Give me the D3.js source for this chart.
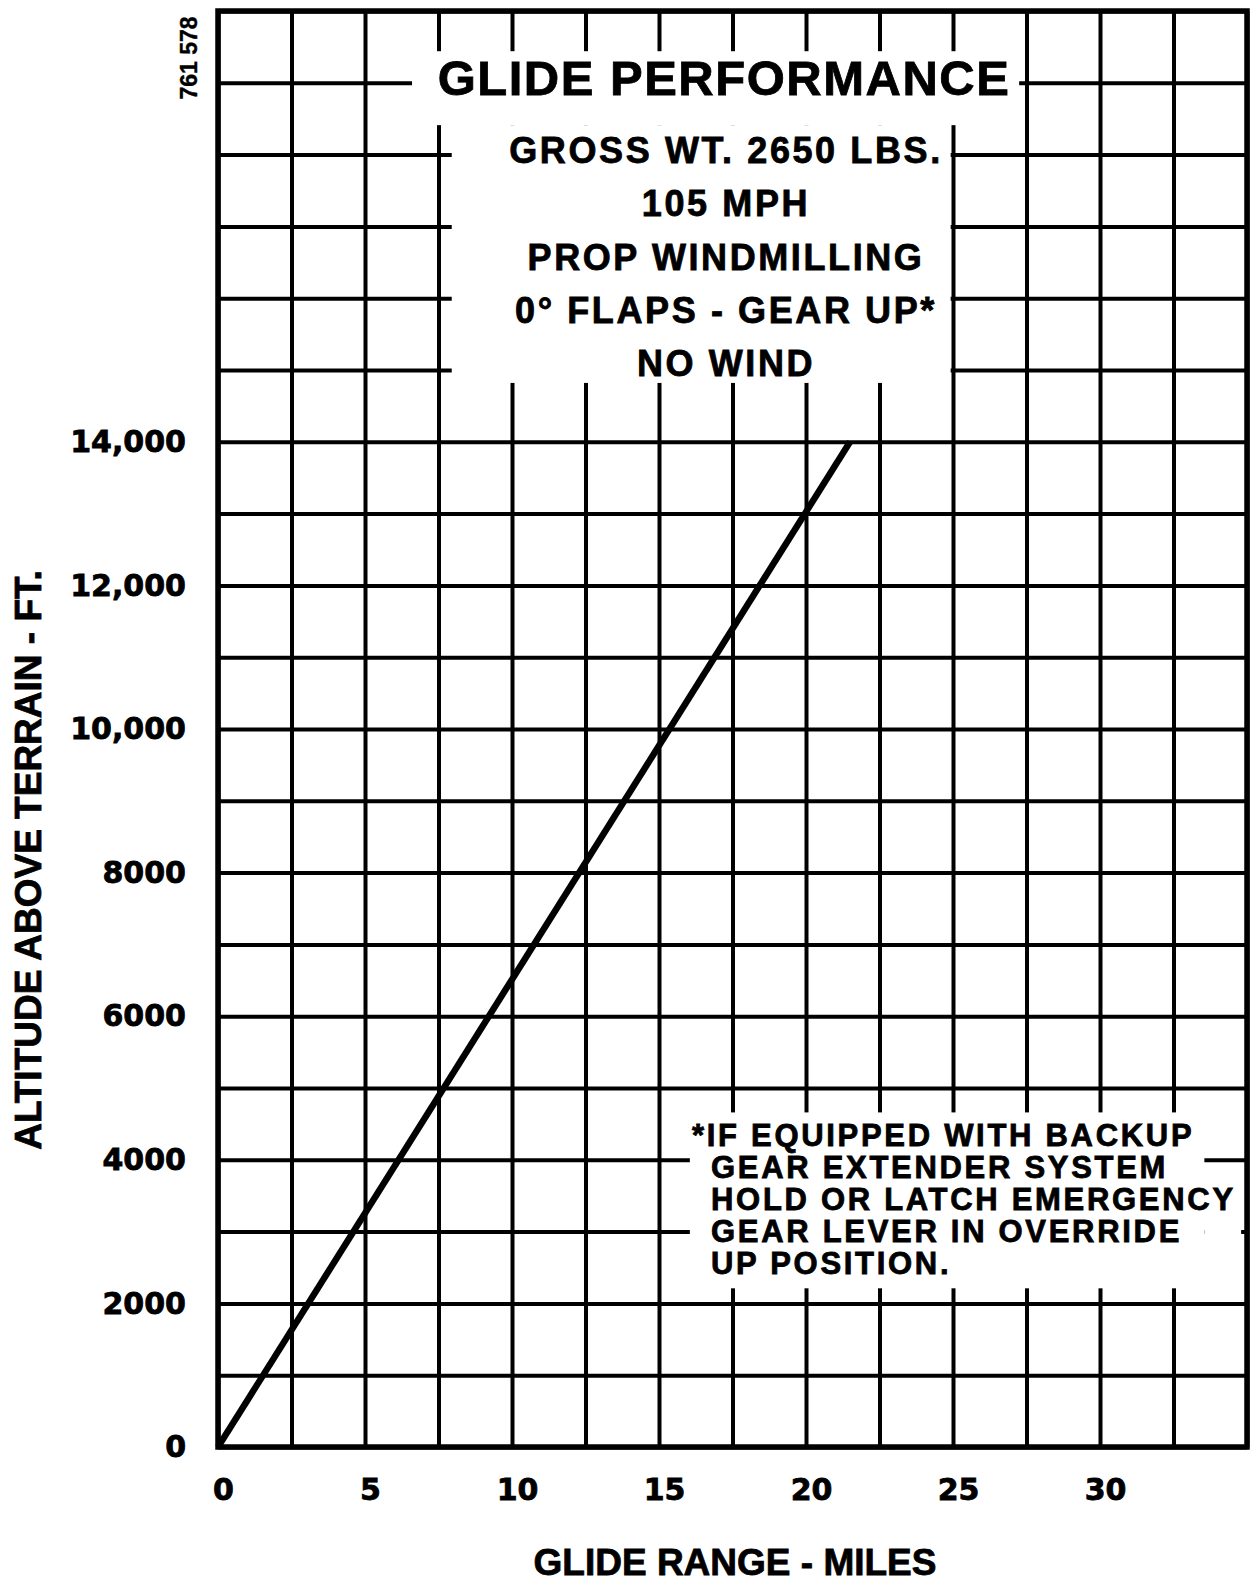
<!DOCTYPE html>
<html>
<head>
<meta charset="utf-8">
<script src="https://cdn.jsdelivr.net/npm/d3@7"></script>
<style>
  body { margin: 0; background: #fff; }
  text { font-family: "Liberation Sans", Arial, sans-serif; font-weight: bold; fill: #000; stroke: #000; stroke-width: 0.8px; }
  .tick text { font-family: "DejaVu Sans", sans-serif; }
</style>
</head>
<body>
<svg id="chart" width="1251" height="1587"></svg>
<script>
// data
const xTicks = [0, 5, 10, 15, 20, 25, 30];
const yTicks = [0, 2000, 4000, 6000, 8000, 10000, 12000, 14000];
const yTickLabels = ["0", "2000", "4000", "6000", "8000", "10,000", "12,000", "14,000"];
const glideMiles = [0, 21.5];
const glideAltitude = [0, 14000];

const titleText = "GLIDE PERFORMANCE";
const conditions = ["GROSS WT. 2650 LBS.", "105 MPH", "PROP WINDMILLING", "0\u00B0 FLAPS - GEAR UP*", "NO WIND"];
const footnote = ["*IF EQUIPPED WITH BACKUP", "GEAR EXTENDER SYSTEM", "HOLD OR LATCH EMERGENCY", "GEAR LEVER IN OVERRIDE", "UP POSITION."];

const svg = d3.select("#chart");

const x = d3.scaleLinear().domain([0, 35]).range([218, 1247]);
const y = d3.scaleLinear().domain([0, 20000]).range([1447, 11]);

// grid lines (every 2.5 miles / 1000 ft)
svg.append("g")
  .attr("transform", "translate(0," + y(0) + ")")
  .call(d3.axisBottom(x).tickValues(d3.range(0, 35.01, 2.5)).tickSize(-(y(0) - y(20000))).tickFormat(""))
  .call(g => g.select(".domain").remove())
  .call(g => g.selectAll("line").attr("stroke", "#000").attr("stroke-width", 4));

svg.append("g")
  .attr("transform", "translate(" + x(0) + ",0)")
  .call(d3.axisLeft(y).tickValues(d3.range(0, 20001, 1000)).tickSize(-(x(35) - x(0))).tickFormat(""))
  .call(g => g.select(".domain").remove())
  .call(g => g.selectAll("line").attr("stroke", "#000").attr("stroke-width", 4));

// white boxes behind the printed notes (in chart units)
const boxes = [
  {x0: 6.6, x1: 27.25, y0: 18410, y1: 19440},
  {x0: 7.95, x1: 24.92, y0: 14820, y1: 18410},
  {x0: 16.05, x1: 33.55, y0: 2210, y1: 4660},
  {x0: 33.55, x1: 34.8, y0: 2210, y1: 3940}
];
svg.selectAll("rect.box")
  .data(boxes)
  .enter()
  .append("rect")
  .attr("class", "box")
  .attr("x", d => x(d.x0))
  .attr("y", d => y(d.y1))
  .attr("width", d => x(d.x1) - x(d.x0))
  .attr("height", d => y(d.y0) - y(d.y1))
  .attr("fill", "#fff");

// frame
svg.append("rect")
  .attr("x", x(0))
  .attr("y", y(20000))
  .attr("width", x(35) - x(0))
  .attr("height", y(0) - y(20000))
  .attr("fill", "none")
  .attr("stroke", "#000")
  .attr("stroke-width", 5.5);

// glide line
const line = d3.line()
  .x(d => x(d[0]))
  .y(d => y(d[1]));
svg.append("path")
  .datum(d3.zip(glideMiles, glideAltitude))
  .attr("d", line)
  .attr("fill", "none")
  .attr("stroke", "#000")
  .attr("stroke-width", 6.5);

// axis labels
svg.append("g")
  .attr("transform", "translate(0," + y(0) + ")")
  .call(d3.axisBottom(x).tickValues(xTicks).tickSize(0).tickPadding(32).tickFormat(d3.format("d")))
  .call(g => g.select(".domain").remove())
  .call(g => g.selectAll("text")
    .attr("dx", 5)
    .style("font-size", "30px"));

svg.append("g")
  .attr("transform", "translate(" + x(0) + ",0)")
  .call(d3.axisLeft(y).tickValues(yTicks).tickSize(0).tickPadding(32).tickFormat((d, i) => yTickLabels[i]))
  .call(g => g.select(".domain").remove())
  .call(g => g.selectAll("text")
    .style("font-size", "30px"));

svg.append("text")
  .attr("x", 735)
  .attr("y", 1575)
  .attr("text-anchor", "middle")
  .style("font-size", "37px")
  .text("GLIDE RANGE - MILES");

svg.append("text")
  .attr("transform", "translate(41,860) rotate(-90)")
  .attr("text-anchor", "middle")
  .style("font-size", "37px")
  .text("ALTITUDE ABOVE TERRAIN - FT.");

svg.append("text")
  .attr("transform", "translate(197,58) rotate(-90)")
  .attr("text-anchor", "middle")
  .attr("textLength", 83)
  .attr("lengthAdjust", "spacingAndGlyphs")
  .style("font-size", "24px")
  .style("stroke-width", "0.4px")
  .text("761 578");

// title block
svg.append("text")
  .attr("x", 724)
  .attr("y", 95)
  .attr("text-anchor", "middle")
  .style("font-size", "49px")
  .style("letter-spacing", "1.5px")
  .text(titleText);

svg.selectAll("text.cond")
  .data(conditions)
  .enter()
  .append("text")
  .attr("class", "cond")
  .attr("x", 726)
  .attr("y", (d, i) => 163 + i * 53.3)
  .attr("text-anchor", "middle")
  .style("font-size", "36px")
  .style("letter-spacing", "2.6px")
  .text(d => d);

svg.selectAll("text.note")
  .data(footnote)
  .enter()
  .append("text")
  .attr("class", "note")
  .attr("x", (d, i) => i === 0 ? 692 : 711)
  .attr("y", (d, i) => 1146 + i * 32)
  .style("font-size", "31px")
  .style("letter-spacing", "2.7px")
  .text(d => d);
</script>
</body>
</html>
